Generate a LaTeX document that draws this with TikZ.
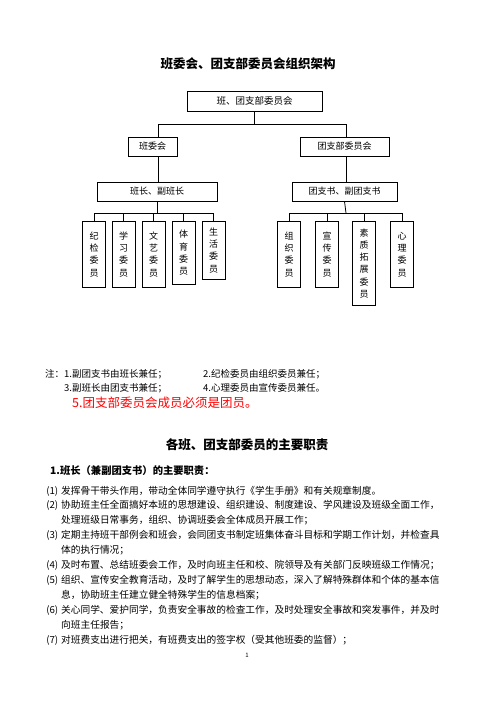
\documentclass[tikz,border=0pt]{standalone}
\usepackage{fontspec}
\setmainfont{Noto Sans CJK SC}
\usepackage{xcolor}
\usepackage{tikz}
\XeTeXlinebreaklocale "zh"
\XeTeXlinebreakskip=0pt plus 1pt

\tikzset{
  unit/.style={draw, line width=0.8pt, inner sep=0pt, minimum height=19pt, font=\fontsize{9}{11}\selectfont},
  member/.style={draw, line width=0.8pt, inner sep=0pt, minimum width=23pt, anchor=north, align=center, font=\fontsize{9}{12.3}\selectfont},
  link/.style={line width=0.8pt},
  heading/.style={inner sep=0pt, font=\bfseries\fontsize{12.5}{14}\selectfont},
  note/.style={anchor=west, inner sep=0pt, font=\fontsize{9.5}{11}\selectfont},
  duty/.style={anchor=west, inner sep=0pt, font=\fontsize{9.7}{12}\selectfont},
  fullduty/.style={duty, text width=387pt, align=justify},
}

\begin{document}
\begin{tikzpicture}[x=1pt,y=-1pt]
    \useasboundingbox (0,0) rectangle (496,702);
    \node[heading] (title) at (248,64) {班委会、团支部委员会组织架构};
    \node[unit, minimum width=135pt, minimum height=20pt, font=\fontsize{9.5}{11}\selectfont] (top) at (254.5,101) {班、团支部委员会};
    \node[unit, minimum width=49pt] (bwh) at (152.5,146.5) {班委会};
    \node[unit, minimum width=89pt] (tzb) at (344.5,146.5) {团支部委员会};
    \node[unit, minimum width=120pt] (bz) at (157,191.5) {班长、副班长};
    \node[unit, minimum width=105pt] (ts) at (344.5,191.5) {团支书、副团支书};
    \coordinate (busL) at (158,124);
    \coordinate (busR) at (346,124);
    \draw[link] (top.south) -- (top.south |- busL);
    \draw[link] (busL) -- (busR);
    \draw[link] (busL) -- (busL |- bwh.north);
    \draw[link] (busR) -- (busR |- tzb.north);
    \draw[link] (busL |- bwh.south) -- (busL |- bz.north);
    \draw[link] (busR |- tzb.south) -- (busR |- ts.north);

    \node[member, minimum height=66pt] (m1) at (94,221) {纪\\检\\委\\员};
    \node[member, minimum height=66pt] (m2) at (123.5,221) {学\\习\\委\\员};
    \node[member, minimum height=66pt] (m3) at (153.5,221) {文\\艺\\委\\员};
    \node[member, minimum height=63pt] (m4) at (183.5,221) {体\\育\\委\\员};
    \node[member, minimum height=58pt] (m5) at (213.5,221) {生\\活\\委\\员};
    \node[member, minimum height=66pt] (n1) at (289,221) {组\\织\\委\\员};
    \node[member, minimum height=66pt] (n2) at (327,221) {宣\\传\\委\\员};
    \node[member, minimum height=84pt] (n3) at (364,221) {素\\质\\拓\\展\\委\\员};
    \node[member, minimum height=66pt] (n4) at (402,221) {心\\理\\委\\员};
    \coordinate (forkL) at (157,213);
    \coordinate (forkR) at (346,213);
    \draw[link] (bz.south) -- (forkL);
    \draw[link] (ts.south) -- (forkR);
    \draw[link] (m1.north |- forkL) -- (m5.north |- forkL);
    \draw[link] (n1.north |- forkR) -- (n4.north |- forkR);
    \foreach \m in {m1,m2,m3,m4,m5}
      \draw[link] (\m.north |- forkL) -- (\m.north);
    \foreach \n in {n1,n2,n3,n4}
      \draw[link] (\n.north |- forkR) -- (\n.north);

    \node[note] (note1) at (45,374) {注：1.副团支书由班长兼任；};
    \node[note] (note2) at (203,374) {2.纪检委员由组织委员兼任；};
    \node[note] (note3) at (64,388) {3.副班长由团支书兼任；};
    \node[note] (note4) at (203,388) {4.心理委员由宣传委员兼任。};
    \node[note, text=red, font=\fontsize{12.5}{14}\selectfont] (note5) at (72,403) {5.团支部委员会成员必须是团员。};

    \node[heading] (title2) at (247,445) {各班、团支部委员的主要职责};
    \node[anchor=west, inner sep=0pt, font=\bfseries\fontsize{10.3}{12}\selectfont] (sub1) at (50,471) {1.班长（兼副团支书）的主要职责：};
    \node[duty] (d1) at (61,491) {\llap{(1)\hspace{3pt}}发挥骨干带头作用，带动全体同学遵守执行《学生手册》和有关规章制度。};
    \node[fullduty] (d2) at (61,505) {\parfillskip=0pt \llap{(2)\hspace{3pt}}协助班主任全面搞好本班的思想建设、组织建设、制度建设、学风建设及班级全面工作，};
    \node[duty] (d2b) at (61,520) {处理班级日常事务，组织、协调班委会全体成员开展工作；};
    \node[fullduty] (d3) at (61,535) {\parfillskip=0pt \llap{(3)\hspace{3pt}}定期主持班干部例会和班会，会同团支书制定班集体奋斗目标和学期工作计划，并检查具};
    \node[duty] (d3b) at (61,550) {体的执行情况；};
    \node[fullduty] (d4) at (61,565) {\parfillskip=0pt \llap{(4)\hspace{3pt}}及时布置、总结班委会工作，及时向班主任和校、院领导及有关部门反映班级工作情况；};
    \node[fullduty] (d5) at (61,580) {\parfillskip=0pt \llap{(5)\hspace{3pt}}组织、宣传安全教育活动，及时了解学生的思想动态，深入了解特殊群体和个体的基本信};
    \node[duty] (d5b) at (61,595) {息，协助班主任建立健全特殊学生的信息档案；};
    \node[fullduty] (d6) at (61,610) {\parfillskip=0pt \llap{(6)\hspace{3pt}}关心同学、爱护同学，负责安全事故的检查工作，及时处理安全事故和突发事件，并及时};
    \node[duty] (d6b) at (61,625) {向班主任报告；};
    \node[duty] (d7) at (61,640) {\llap{(7)\hspace{3pt}}对班费支出进行把关，有班费支出的签字权（受其他班委的监督）；};
    \node[inner sep=0pt, font=\fontsize{6}{7}\selectfont] (page) at (247,655) {1};
\end{tikzpicture}
\end{document}
